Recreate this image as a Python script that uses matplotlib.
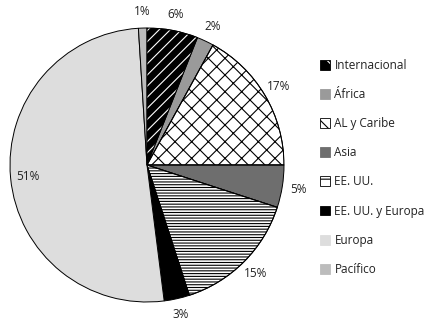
import matplotlib
matplotlib.use("Agg")
import matplotlib.pyplot as plt
from matplotlib.patches import Wedge, Rectangle, Patch
from matplotlib.colors import to_rgba
from matplotlib.legend_handler import HandlerBase

categories = ["Internacional", "África", "AL y Caribe", "Asia", "EE. UU.",
              "EE. UU. y Europa", "Europa", "Pacífico"]
values = [6, 2, 17, 5, 15, 3, 51, 1]

faces = ["black", "#9a9a9a", "white", "#6e6e6e", "white", "black", "#dddddd", "#bcbcbc"]
hatches = ["///", None, "xx", None, "------", None, None, None]
hatch_cols = ["white", None, "black", None, "black", None, None, None]
legend_hatches = ["\\\\", None, "\\", None, "--", None, None, None]

plt.rcParams['font.family'] = ['Open Sans', 'DejaVu Sans']
plt.rcParams['hatch.linewidth'] = 0.8

fig = plt.figure(figsize=(4.35, 3.2), dpi=100)
ax = fig.add_axes([10/435, 18/320, 274/435, 274/320])

wedges, texts, autotexts = ax.pie(
    values, colors=faces, startangle=90, counterclock=False,
    autopct=lambda p: f"{p:.0f}%", pctdistance=1.12,
    wedgeprops=dict(edgecolor="black", linewidth=0.7),
    textprops=dict(fontsize=8.5, color="#222222"))

# overlay hatches with their own colour
for w, h, hc in zip(wedges, hatches, hatch_cols):
    if h:
        ov = Wedge(w.center, w.r, w.theta1, w.theta2, fill=False, hatch=h,
                   edgecolor=hc, linewidth=0)
        ax.add_patch(ov)
        ed = Wedge(w.center, w.r, w.theta1, w.theta2, fill=False,
                   edgecolor="black", linewidth=0.7)
        ax.add_patch(ed)

# largest share label sits inside the pie
big = values.index(max(values))
x, y = autotexts[big].get_position()
autotexts[big].set_position((x / 1.12 * 0.87, y / 1.12 * 0.87))

ax.set_xlim(-1, 1)
ax.set_ylim(-1, 1)
ax.set_aspect("equal")
ax.axis("off")


class SwatchHandler(HandlerBase):
    def __init__(self, face, hatch, hcol):
        super().__init__()
        self.face, self.hatch, self.hcol = face, hatch, hcol

    def update_prop(self, legend_handle, orig_handle, legend):
        legend._set_artist_props(legend_handle)
        legend_handle.set_clip_box(None)
        legend_handle.set_clip_path(None)

    def create_artists(self, legend, orig_handle, xdescent, ydescent, width, height,
                       fontsize, trans):
        edge = "black" if self.hatch else self.face
        r = Rectangle((-xdescent, -ydescent), width, height, facecolor=self.face,
                      edgecolor=edge, linewidth=0.6, hatch=self.hatch, transform=trans)
        if self.hatch:
            r._hatch_color = to_rgba(self.hcol)
        return [r]


handles = [Patch(facecolor=f) for f in faces]
hmap = {hd: SwatchHandler(f, lh, hc)
        for hd, f, lh, hc in zip(handles, faces, legend_hatches, hatch_cols)}

leg = fig.legend(handles, categories, loc="upper left", bbox_to_anchor=(315/435, 1 - 54/320),
                 frameon=False, fontsize=8.5, handlelength=0.9, handleheight=0.9,
                 handletextpad=0.35, labelspacing=1.37, borderaxespad=0, handler_map=hmap)
for t in leg.get_texts():
    t.set_color("#222222")

fig.savefig("out.png", dpi=100)
